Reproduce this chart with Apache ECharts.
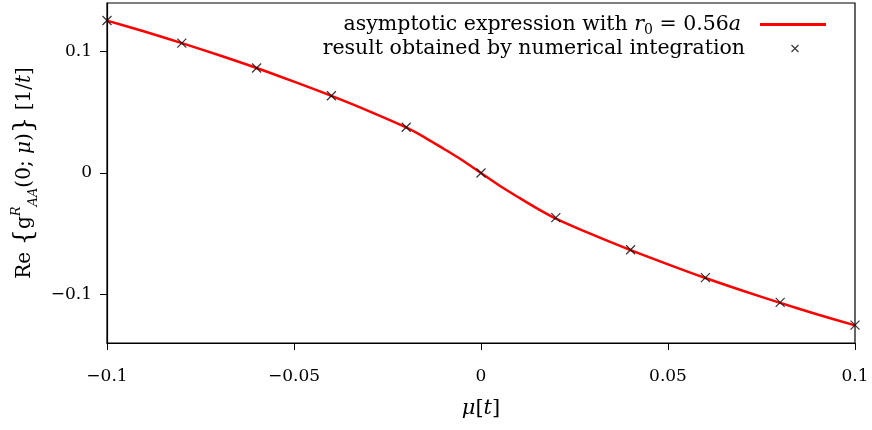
<!DOCTYPE html>
<html>
<head>
<meta charset="utf-8">
<script src="https://cdn.jsdelivr.net/npm/echarts@6/dist/echarts.min.js"></script>
<style>html,body{margin:0;padding:0;background:#fff}#c{width:872px;height:430px}</style>
</head>
<body>
<div id="c"></div>
<script>
// asymptotic curve
const lineX = [-0.1,-0.09,-0.08,-0.07,-0.06,-0.05,-0.04,-0.03,-0.02,-0.015,-0.01,-0.005,0,
               0.005,0.01,0.015,0.02,0.03,0.04,0.05,0.06,0.07,0.08,0.09,0.1];
const lineY = [0.1255,0.1165,0.107,0.097,0.0865,0.0752,0.0635,0.051,0.0375,0.0292,0.0200,0.0105,0,
               -0.0105,-0.0200,-0.0292,-0.0375,-0.051,-0.0635,-0.0752,-0.0865,-0.097,-0.107,-0.1165,-0.1255];
// numerical integration points
const ptsX = [-0.1,-0.08,-0.06,-0.04,-0.02,0,0.02,0.04,0.06,0.08,0.1];
const ptsY = [0.1256,0.1070,0.0865,0.0636,0.0377,0,-0.0368,-0.0632,-0.0862,-0.1065,-0.1253];
const yTicks = [-0.1,0,0.1];

const FONT = '"DejaVu Serif", "Liberation Serif", serif';
const cross = 'path://M0,0L10,10M10,0L0,10';
const fmt = v => {
  const r = Math.round(v*1000)/1000;
  return (r < 0 ? '\u2212' : '') + String(Math.abs(r));
};
const LF = 20.5;
const richBase = {
  n: {fontFamily: FONT, fontSize: LF, color: '#000'},
  i: {fontFamily: FONT, fontSize: LF, fontStyle: 'italic', color: '#000'},
  s: {fontFamily: FONT, fontSize: 14, color: '#000', verticalAlign: 'bottom', lineHeight: 25}
};

const chart = echarts.init(document.getElementById('c'));
chart.setOption({
  animation: false,
  textStyle: {fontFamily: FONT},
  grid: {left: 107, right: 17, top: 3, bottom: 87, containLabel: false,
         show: true, borderColor: '#000', borderWidth: 1.2, backgroundColor: 'transparent'},
  legend: [
    {
      right: 41, top: 9, align: 'right', itemGap: 0, itemWidth: 66, itemHeight: 3,
      textStyle: {fontFamily: FONT, fontSize: LF, color: '#000', padding: [0, 14, 0, 0], rich: richBase},
      formatter: () => '{n|asymptotic expression with }{i|r}{s|0}{n| = 0.56}{i|a}',
      data: [{name: 'asymptotic', icon: 'rect', itemStyle: {color: '#ff0000', borderWidth: 0}}]
    },
    {
      right: 66, top: 33, align: 'right', itemGap: 0, itemWidth: 68, itemHeight: 7,
      textStyle: {fontFamily: FONT, fontSize: LF, color: '#000', padding: [0, 11, 0, 0], rich: richBase},
      formatter: () => '{n|result obtained by numerical integration}',
      data: [{name: 'numerical', icon: cross,
              itemStyle: {color: 'none', borderColor: '#000', borderWidth: 1.1}}]
    }
  ],
  xAxis: {
    type: 'value', min: -0.1, max: 0.1, interval: 0.05,
    name: '{i|μ}{n|[}{i|t}{n|]}', nameLocation: 'middle', nameGap: 55,
    nameTextStyle: {rich: {
      i: {fontFamily: FONT, fontSize: 21, fontStyle: 'italic', color: '#000'},
      n: {fontFamily: FONT, fontSize: 21, color: '#000'}}},
    axisLine: {show: true, onZero: false, lineStyle: {color: '#000', width: 1.2}},
    axisTick: {show: true, inside: false, length: 7, lineStyle: {color: '#000'}},
    splitLine: {show: false},
    axisLabel: {margin: 25, fontSize: 17, color: '#000', fontFamily: FONT, formatter: fmt},
  },
  yAxis: {
    type: 'value', min: -0.14, max: 0.14,
    name: '{n|Re }{b|{}{n|g}{s|R}{u|AA}{n|(0; }{i|μ}{n|)}}{n| [1/}{i|t}{n|]}',
    nameLocation: 'middle', nameGap: 62, nameRotate: 90,
    nameTextStyle: {fontFamily: FONT, fontSize: 26, color: '#000', lineHeight: 30, rich: {
      n: {fontFamily: FONT, fontSize: 20, color: '#000', lineHeight: 30},
      i: {fontFamily: FONT, fontSize: 20, fontStyle: 'italic', color: '#000', lineHeight: 30},
      b: {fontFamily: FONT, fontSize: 26, color: '#000', lineHeight: 30},
      s: {fontFamily: FONT, fontSize: 13, fontStyle: 'italic', color: '#000', verticalAlign: 'top', lineHeight: 30},
      u: {fontFamily: FONT, fontSize: 13, fontStyle: 'italic', color: '#000', verticalAlign: 'bottom', lineHeight: 30}}},
    axisLine: {show: true, onZero: false, lineStyle: {color: '#000', width: 1.2}},
    axisTick: {show: true, inside: false, length: 7, lineStyle: {color: '#000'}, customValues: yTicks},
    splitLine: {show: false},
    axisLabel: {margin: 15, fontSize: 17, color: '#000', fontFamily: FONT, customValues: yTicks, formatter: fmt},
  },
  series: [
    {name: 'asymptotic', type: 'line', data: lineX.map((x,i)=>[x,lineY[i]]),
     smooth: 0.3, symbol: 'none', lineStyle: {color: '#ff0000', width: 2.5}, z: 2,
     itemStyle: {color: '#ff0000'}},
    {name: 'numerical', type: 'scatter', data: ptsX.map((x,i)=>[x,ptsY[i]]),
     symbol: cross, symbolSize: 9,
     itemStyle: {color: 'none', borderColor: '#000', borderWidth: 1.2}, z: 3}
  ]
});
</script>
</body>
</html>
